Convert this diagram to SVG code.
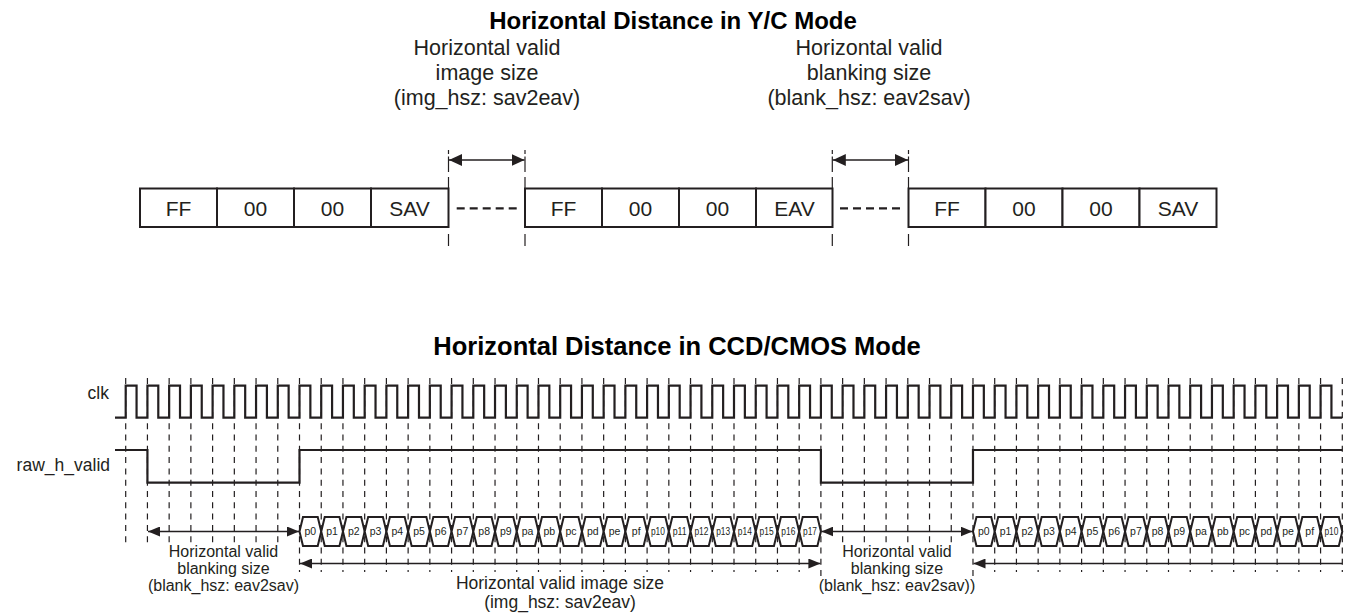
<svg xmlns="http://www.w3.org/2000/svg" xmlns:xlink="http://www.w3.org/1999/xlink" width="1351" height="616" viewBox="0 0 1351 616">
<style>
.t{font-family:"Liberation Sans",Arial,Helvetica,sans-serif;fill:#231f20}
.ttl{font-weight:bold;font-size:24px;fill:#000}
.ttl2{font-weight:bold;font-size:25.5px;fill:#000}
.lbl{font-size:21.5px}
.cell{font-size:21px}
.sm{font-size:16px}
.md{font-size:17.5px}
.sig{font-size:17.5px}
.bl{font-size:10.5px}
.box{fill:#fff;stroke:#231f20;stroke-width:2}
.dsh{fill:none;stroke:#231f20;stroke-width:1.2;stroke-dasharray:6 5.3}
.tk{fill:none;stroke:#231f20;stroke-width:1.2}
.gap{fill:none;stroke:#231f20;stroke-width:2.2;stroke-dasharray:8 5}
.wave{fill:none;stroke:#231f20;stroke-width:2.2}
.arr{fill:none;stroke:#231f20;stroke-width:1.5}
.hx{fill:#fff;stroke:#231f20;stroke-width:2}
</style>
<defs>
<marker id="ah" viewBox="0 0 13 12" refX="13" refY="6" markerWidth="13" markerHeight="12" markerUnits="userSpaceOnUse" orient="auto-start-reverse"><path d="M0,0L13,6L0,12z" fill="#231f20"/></marker>
<marker id="as" viewBox="0 0 12 10" refX="12" refY="5" markerWidth="12" markerHeight="10" markerUnits="userSpaceOnUse" orient="auto-start-reverse"><path d="M0,0L12,5L0,10z" fill="#231f20"/></marker>
<polygon id="hx" class="hx" points="0,0 3.5,-14.5 18.225,-14.5 21.725,0 18.225,14.5 3.5,14.5"/>
</defs>
<rect width="1351" height="616" fill="#fff"/>

<g id="title-yc"><text class="t ttl" x="673" y="29" text-anchor="middle">Horizontal Distance in Y/C Mode</text></g>

<g id="label-img-top" class="t lbl" text-anchor="middle">
<text x="487" y="55">Horizontal valid</text>
<text x="487" y="80">image size</text>
<text x="487" y="105">(img_hsz: sav2eav)</text>
</g>
<g id="label-blank-top" class="t lbl" text-anchor="middle">
<text x="869" y="55">Horizontal valid</text>
<text x="869" y="80">blanking size</text>
<text x="869" y="105">(blank_hsz: eav2sav)</text>
</g>

<g id="seq1">
<rect class="box" x="140" y="188.5" width="77" height="38.5"/>
<rect class="box" x="217" y="188.5" width="77" height="38.5"/>
<rect class="box" x="294" y="188.5" width="77" height="38.5"/>
<rect class="box" x="371" y="188.5" width="77.5" height="38.5"/>
<g class="t cell" text-anchor="middle"><text x="178.5" y="216">FF</text><text x="255.5" y="216">00</text><text x="332.5" y="216">00</text><text x="409.5" y="216">SAV</text></g>
</g>
<g id="seq2">
<rect class="box" x="525" y="188.5" width="77" height="38.5"/>
<rect class="box" x="602" y="188.5" width="77" height="38.5"/>
<rect class="box" x="679" y="188.5" width="77" height="38.5"/>
<rect class="box" x="756" y="188.5" width="76.5" height="38.5"/>
<g class="t cell" text-anchor="middle"><text x="563.5" y="216">FF</text><text x="640.5" y="216">00</text><text x="717.5" y="216">00</text><text x="794.5" y="216">EAV</text></g>
</g>
<g id="seq3">
<rect class="box" x="908.5" y="188.5" width="77" height="38.5"/>
<rect class="box" x="985.5" y="188.5" width="77" height="38.5"/>
<rect class="box" x="1062.5" y="188.5" width="77" height="38.5"/>
<rect class="box" x="1139.5" y="188.5" width="77" height="38.5"/>
<g class="t cell" text-anchor="middle"><text x="947" y="216">FF</text><text x="1024" y="216">00</text><text x="1101" y="216">00</text><text x="1178" y="216">SAV</text></g>
</g>

<g id="connectors-top">
<path class="gap" d="M456.7,208.3H516.7M840,208.3H900"/>
<path class="tk" d="M448.5,150V154M448.5,156.5V172M448.5,177V188M448.5,234V246
M525,150V154M525,156.5V172M525,177V188M525,234V246
M832.3,150V154M832.3,156.5V172M832.3,177V188M832.3,234V246
M908.5,150V154M908.5,156.5V172M908.5,177V188M908.5,234V246"/>
<line class="arr" x1="449" y1="160" x2="524.5" y2="160" marker-start="url(#ah)" marker-end="url(#ah)"/>
<line class="arr" x1="832.8" y1="160" x2="908" y2="160" marker-start="url(#ah)" marker-end="url(#ah)"/>
</g>

<g id="title-ccd"><text class="t ttl2" x="677" y="355" text-anchor="middle">Horizontal Distance in CCD/CMOS Mode</text></g>

<g id="signal-names" class="t sig" text-anchor="end">
<text x="109" y="399">clk</text>
<text x="110" y="471">raw_h_valid</text>
</g>

<g id="gridlines">
<path class="dsh" d="M125.7,378V543M147.43,378V543M169.15,378V543M190.88,378V543M212.6,378V543M234.33,378V543M256.05,378V543M277.78,378V543
M299.5,378V572M321.23,378V572M342.95,378V572M364.68,378V572M386.4,378V572M408.13,378V572M429.85,378V572M451.58,378V572M473.3,378V572M495.03,378V572M516.75,378V572M538.48,378V572M560.2,378V572M581.93,378V572M603.65,378V572M625.38,378V572M647.1,378V572M668.83,378V572M690.55,378V572M712.28,378V572M734,378V572M755.73,378V572M777.45,378V572M799.18,378V572M820.9,378V576
M842.63,378V543M864.35,378V543M886.08,378V543M907.8,378V543M929.53,378V543M951.25,378V543
M972.98,378V576M994.7,378V572M1016.43,378V572M1038.15,378V572M1059.88,378V572M1081.6,378V572M1103.33,378V572M1125.05,378V572M1146.78,378V572M1168.5,378V572M1190.23,378V572M1211.95,378V572M1233.68,378V572M1255.4,378V572M1277.13,378V572M1298.85,378V572M1320.58,378V572M1342.3,378V572"/>
</g>

<g id="clk">
<path class="wave" d="M115,417.7H125.7
v-32h10.8625v32h10.8625v-32h10.8625v32h10.8625v-32h10.8625v32h10.8625v-32h10.8625v32h10.8625v-32h10.8625v32h10.8625v-32h10.8625v32h10.8625v-32h10.8625v32h10.8625v-32h10.8625v32h10.8625
v-32h10.8625v32h10.8625v-32h10.8625v32h10.8625v-32h10.8625v32h10.8625v-32h10.8625v32h10.8625v-32h10.8625v32h10.8625v-32h10.8625v32h10.8625v-32h10.8625v32h10.8625v-32h10.8625v32h10.8625
v-32h10.8625v32h10.8625v-32h10.8625v32h10.8625v-32h10.8625v32h10.8625v-32h10.8625v32h10.8625v-32h10.8625v32h10.8625v-32h10.8625v32h10.8625v-32h10.8625v32h10.8625v-32h10.8625v32h10.8625
v-32h10.8625v32h10.8625v-32h10.8625v32h10.8625v-32h10.8625v32h10.8625v-32h10.8625v32h10.8625v-32h10.8625v32h10.8625v-32h10.8625v32h10.8625v-32h10.8625v32h10.8625v-32h10.8625v32h10.8625
v-32h10.8625v32h10.8625v-32h10.8625v32h10.8625v-32h10.8625v32h10.8625v-32h10.8625v32h10.8625v-32h10.8625v32h10.8625v-32h10.8625v32h10.8625v-32h10.8625v32h10.8625v-32h10.8625v32h10.8625
v-32h10.8625v32h10.8625v-32h10.8625v32h10.8625v-32h10.8625v32h10.8625v-32h10.8625v32h10.8625v-32h10.8625v32h10.8625v-32h10.8625v32h10.8625v-32h10.8625v32h10.8625v-32h10.8625v32h10.8625
v-32h10.8625v32h10.8625v-32h10.8625v32h10.8625v-32h10.8625v32h10.8625v-32h10.8625v32h10.8625v-32h10.8625v32h10.8625v-32h10.8625v32h10.8625v-32h10.8625v32h10.8625v-32h10.8625v32h10.8625"/>
</g>

<g id="raw_h_valid">
<path class="wave" d="M115,450H147.43V482.7H299.5V450H820.9V482.7H972.98V450H1342.3"/>
</g>

<g id="bus1">
<use href="#hx" x="299.5" y="531.5"/><use href="#hx" x="321.23" y="531.5"/><use href="#hx" x="342.95" y="531.5"/><use href="#hx" x="364.68" y="531.5"/><use href="#hx" x="386.4" y="531.5"/><use href="#hx" x="408.13" y="531.5"/><use href="#hx" x="429.85" y="531.5"/><use href="#hx" x="451.58" y="531.5"/><use href="#hx" x="473.3" y="531.5"/><use href="#hx" x="495.03" y="531.5"/><use href="#hx" x="516.75" y="531.5"/><use href="#hx" x="538.48" y="531.5"/><use href="#hx" x="560.2" y="531.5"/><use href="#hx" x="581.93" y="531.5"/><use href="#hx" x="603.65" y="531.5"/><use href="#hx" x="625.38" y="531.5"/><use href="#hx" x="647.1" y="531.5"/><use href="#hx" x="668.83" y="531.5"/><use href="#hx" x="690.55" y="531.5"/><use href="#hx" x="712.28" y="531.5"/><use href="#hx" x="734" y="531.5"/><use href="#hx" x="755.73" y="531.5"/><use href="#hx" x="777.45" y="531.5"/><use href="#hx" x="799.18" y="531.5"/>
<g class="t bl" text-anchor="middle">
<text x="310.36" y="535.3">p0</text><text x="332.09" y="535.3">p1</text><text x="353.81" y="535.3">p2</text><text x="375.54" y="535.3">p3</text><text x="397.26" y="535.3">p4</text><text x="418.99" y="535.3">p5</text><text x="440.71" y="535.3">p6</text><text x="462.44" y="535.3">p7</text><text x="484.16" y="535.3">p8</text><text x="505.89" y="535.3">p9</text><text x="527.61" y="535.3">pa</text><text x="549.34" y="535.3">pb</text><text x="571.06" y="535.3">pc</text><text x="592.79" y="535.3">pd</text><text x="614.51" y="535.3">pe</text><text x="636.24" y="535.3">pf</text>
<text x="657.96" y="535.3" textLength="14" lengthAdjust="spacingAndGlyphs">p10</text><text x="679.69" y="535.3" textLength="14" lengthAdjust="spacingAndGlyphs">p11</text><text x="701.41" y="535.3" textLength="14" lengthAdjust="spacingAndGlyphs">p12</text><text x="723.14" y="535.3" textLength="14" lengthAdjust="spacingAndGlyphs">p13</text><text x="744.86" y="535.3" textLength="14" lengthAdjust="spacingAndGlyphs">p14</text><text x="766.59" y="535.3" textLength="14" lengthAdjust="spacingAndGlyphs">p15</text><text x="788.31" y="535.3" textLength="14" lengthAdjust="spacingAndGlyphs">p16</text><text x="810.04" y="535.3" textLength="14" lengthAdjust="spacingAndGlyphs">p17</text>
</g>
</g>

<g id="bus2">
<use href="#hx" x="972.98" y="531.5"/><use href="#hx" x="994.7" y="531.5"/><use href="#hx" x="1016.43" y="531.5"/><use href="#hx" x="1038.15" y="531.5"/><use href="#hx" x="1059.88" y="531.5"/><use href="#hx" x="1081.6" y="531.5"/><use href="#hx" x="1103.33" y="531.5"/><use href="#hx" x="1125.05" y="531.5"/><use href="#hx" x="1146.78" y="531.5"/><use href="#hx" x="1168.5" y="531.5"/><use href="#hx" x="1190.23" y="531.5"/><use href="#hx" x="1211.95" y="531.5"/><use href="#hx" x="1233.68" y="531.5"/><use href="#hx" x="1255.4" y="531.5"/><use href="#hx" x="1277.13" y="531.5"/><use href="#hx" x="1298.85" y="531.5"/><use href="#hx" x="1320.58" y="531.5"/>
<g class="t bl" text-anchor="middle">
<text x="983.84" y="535.3">p0</text><text x="1005.56" y="535.3">p1</text><text x="1027.29" y="535.3">p2</text><text x="1049.01" y="535.3">p3</text><text x="1070.74" y="535.3">p4</text><text x="1092.46" y="535.3">p5</text><text x="1114.19" y="535.3">p6</text><text x="1135.91" y="535.3">p7</text><text x="1157.64" y="535.3">p8</text><text x="1179.36" y="535.3">p9</text><text x="1201.09" y="535.3">pa</text><text x="1222.81" y="535.3">pb</text><text x="1244.54" y="535.3">pc</text><text x="1266.26" y="535.3">pd</text><text x="1287.99" y="535.3">pe</text><text x="1309.71" y="535.3">pf</text>
<text x="1331.44" y="535.3" textLength="14" lengthAdjust="spacingAndGlyphs">p10</text>
</g>
</g>

<g id="connectors-ccd">
<line class="arr" x1="148" y1="531.5" x2="299" y2="531.5" marker-start="url(#as)" marker-end="url(#as)"/>
<line class="arr" x1="821.4" y1="531.5" x2="972.5" y2="531.5" marker-start="url(#as)" marker-end="url(#as)"/>
<line class="arr" x1="300" y1="563.5" x2="820.4" y2="563.5" marker-start="url(#as)" marker-end="url(#as)"/>
<line class="arr" x1="973.5" y1="563.5" x2="1342.3" y2="563.5" marker-start="url(#as)"/>
</g>

<g id="label-blank-1" class="t sm" text-anchor="middle">
<text x="223.5" y="557">Horizontal valid</text>
<text x="223.5" y="574">blanking size</text>
<text x="223.5" y="591">(blank_hsz: eav2sav)</text>
</g>
<g id="label-img-ccd" class="t md" text-anchor="middle">
<text x="560" y="589">Horizontal valid image size</text>
<text x="560" y="608">(img_hsz: sav2eav)</text>
</g>
<g id="label-blank-2" class="t sm" text-anchor="middle">
<text x="897" y="557">Horizontal valid</text>
<text x="897" y="574">blanking size</text>
<text x="897" y="591">(blank_hsz: eav2sav))</text>
</g>
</svg>
